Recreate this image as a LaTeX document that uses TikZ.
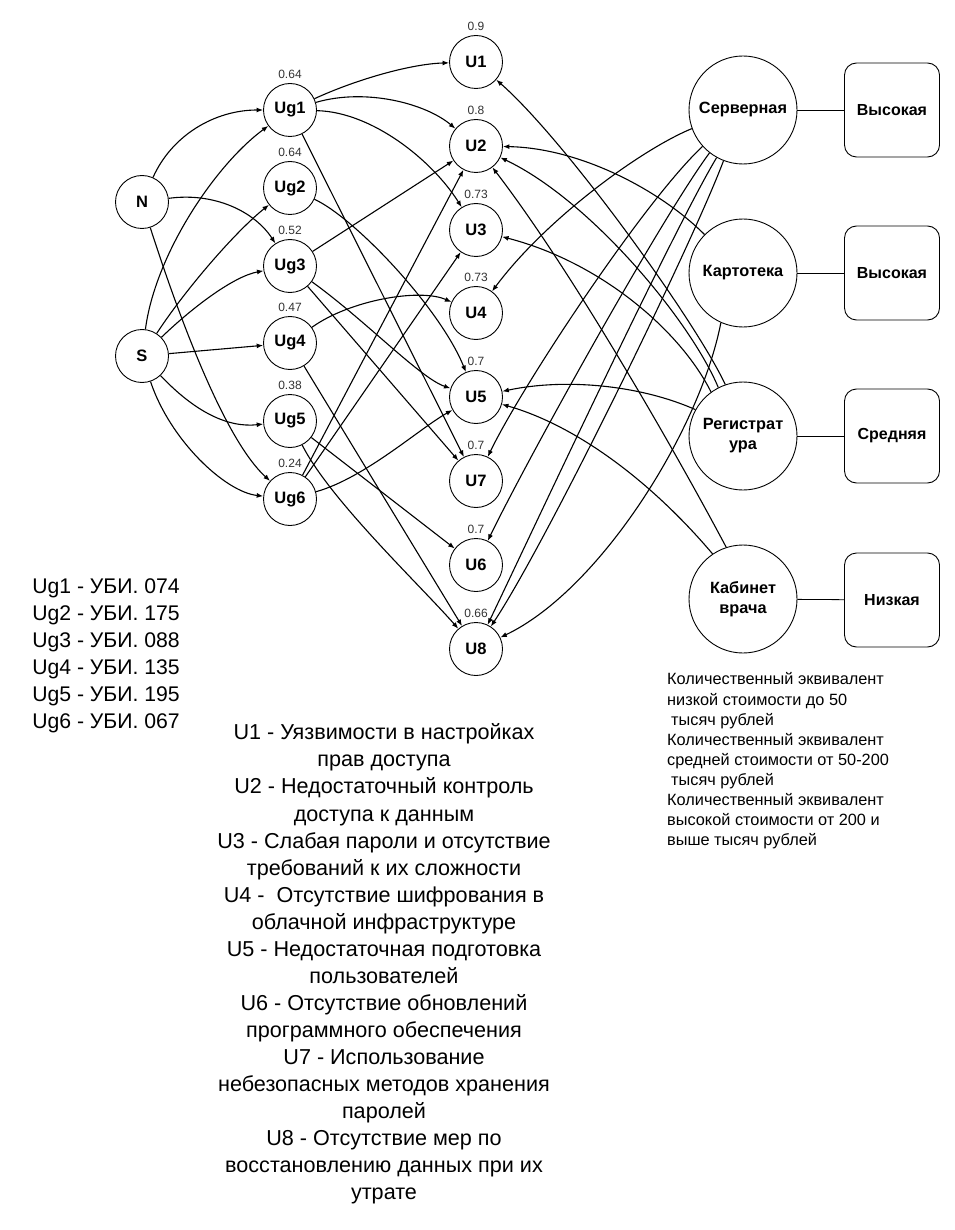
\documentclass[tikz,border=0pt]{standalone}
\usepackage{fontspec}
\setmainfont{Liberation Sans}
\usetikzlibrary{arrows.meta}
\begin{document}
\begin{tikzpicture}[x=1pt,y=-1pt,
  sm/.style={circle,draw,line width=0.9pt,minimum size=53pt,inner sep=0pt,fill=white,
    font=\bfseries\fontsize{16.5}{19}\selectfont},
  big/.style={circle,draw,line width=0.9pt,minimum size=108pt,inner sep=0pt,fill=white,align=center,
    font=\bfseries\fontsize{16.3}{20}\selectfont},
  box/.style={draw,rounded corners=12pt,minimum width=95pt,minimum height=94pt,line width=0.9pt,
    font=\bfseries\fontsize{16}{19}\selectfont},
  val/.style={font=\fontsize{12}{14}\selectfont,text=black!80,inner sep=1pt},
  vl/.style={label={[val,label distance=3.5pt]above:#1}},
  edge/.style={line width=1.1pt,-{Latex[length=6.5pt,width=5pt]}},
  conn/.style={line width=0.8pt}]
\fill[white] (0,0) rectangle (954,1230);
\useasboundingbox (0,0) rectangle (954,1230);
% sources
\node[sm] (N) at (142,202) {N};
\node[sm] (S) at (142,356) {S};
% threats
\node[sm,vl=0.64] (Ug1) at (290,110) {Ug1};
\node[sm,vl=0.64] (Ug2) at (290,188) {Ug2};
\node[sm,vl=0.52] (Ug3) at (290,266) {Ug3};
\node[sm,vl=0.47] (Ug4) at (290,343) {Ug4};
\node[sm,vl=0.38] (Ug5) at (290,421) {Ug5};
\node[sm,vl=0.24] (Ug6) at (290,499) {Ug6};
% vulnerabilities
\node[sm,vl=0.9]  (U1) at (476,62) {U1};
\node[sm,vl=0.8]  (U2) at (476,146) {U2};
\node[sm,vl=0.73] (U3) at (476,230) {U3};
\node[sm,vl=0.73] (U4) at (476,313) {U4};
\node[sm,vl=0.7]  (U5) at (476,397) {U5};
\node[sm,vl=0.7]  (U7) at (476,481) {U7};
\node[sm,vl=0.7]  (U6) at (476,565) {U6};
\node[sm,vl=0.66] (U8) at (476,649) {U8};
% assets
\node[big] (Serv) at (743,110) {Серверная};
\node[big] (Kart) at (743,273) {Картотека};
\node[big] (Reg)  at (743,436) {Регистрат\\ура};
\node[big] (Kab)  at (743,599) {Кабинет\\врача};
\node[box] (B1) at (892,110) {Высокая};
\node[box] (B2) at (892,273) {Высокая};
\node[box] (B3) at (892,436) {Средняя};
\node[box] (B4) at (892,600) {Низкая};
\draw[conn] (Serv) -- (B1);
\draw[conn] (Kart) -- (B2);
\draw[conn] (Reg) -- (B3);
\draw[conn] (Kab) -- (B4);
% N, S -> Ug
\draw[edge] (N) .. controls (172,135) and (215,110) .. (Ug1);
\draw[edge] (N) .. controls (215,192) and (255,212) .. (Ug3);
\draw[edge] (N) .. controls (180,320) and (225,440) .. (Ug6);
\draw[edge] (S) .. controls (155,255) and (215,165) .. (Ug1);
\draw[edge] (S) .. controls (185,290) and (235,232) .. (Ug2);
\draw[edge] (S) .. controls (195,305) and (235,276) .. (Ug3);
\draw[edge] (S) -- (Ug4);
\draw[edge] (S) .. controls (195,412) and (228,428) .. (Ug5);
\draw[edge] (S) .. controls (170,440) and (225,492) .. (Ug6);
% Ug -> U
\draw[edge] (Ug1) .. controls (355,80) and (410,64) .. (U1);
\draw[edge] (Ug1) .. controls (365,88) and (425,103) .. (U2);
\draw[edge] (Ug1) .. controls (372,112) and (432,160) .. (U3);
\draw[edge] (Ug1) -- (U7);
\draw[edge] (Ug2) .. controls (355,218) and (440,308) .. (U5);
\draw[edge] (Ug3) -- (U2);
\draw[edge] (Ug3) .. controls (365,320) and (420,378) .. (U5);
\draw[edge] (Ug3) -- (U7);
\draw[edge] (Ug4) .. controls (350,300) and (420,288) .. (U4);
\draw[edge] (Ug4) -- (U8);
\draw[edge] (Ug5) -- (U6);
\draw[edge] (Ug5) .. controls (330,500) and (420,585) .. (U8);
\draw[edge] (Ug6) -- (U2);
\draw[edge] (Ug6) -- (U3);
\draw[edge] (Ug6) .. controls (365,478) and (420,428) .. (U5);
% assets -> U
\draw[edge] (Serv.200) .. controls (640,150) and (545,220) .. (U4);
\draw[edge] (Serv.222) .. controls (645,200) and (523,384) .. (U7);
\draw[edge] (Serv.232) .. controls (660,220) and (527,460) .. (U6);
\draw[edge] (Serv.241) .. controls (672,232) and (532,532) .. (U8);
\draw[edge] (Serv.249) .. controls (693,242) and (548,540) .. (U8);
\draw[edge] (Kart.135) .. controls (660,190) and (580,148) .. (U2);
\draw[edge] (Kart.246) .. controls (700,430) and (600,590) .. (U8);
\draw[edge] (Reg.151) .. controls (640,385) and (565,378) .. (U5);
\draw[edge] (Reg.126) .. controls (680,330) and (600,262) .. (U3);
\draw[edge] (Reg.117) .. controls (690,320) and (590,200) .. (U2);
\draw[edge] (Reg.109) .. controls (695,320) and (565,140) .. (U1);
\draw[edge] (Kab.124) .. controls (650,480) and (575,425) .. (U5);
\draw[edge] (Kab.108) .. controls (680,460) and (575,275) .. (U2);
% texts
\node[align=center,inner sep=0pt,font=\fontsize{21.2}{27}\selectfont] (legUg) at (106,656)
  {Ug1 - УБИ. 074\\Ug2 - УБИ. 175\\Ug3 - УБИ. 088\\Ug4 - УБИ. 135\\Ug5 - УБИ. 195\\Ug6 - УБИ. 067};
\node[align=center,inner sep=0pt,font=\fontsize{21.6}{27.05}\selectfont] (legU) at (384,964)
  {U1 - Уязвимости в настройках\\прав доступа\\U2 - Недостаточный контроль\\доступа к данным\\
   U3 - Слабая пароли и отсутствие\\требований к их сложности\\U4 - \ Отсутствие шифрования в\\
   облачной инфраструктуре\\U5 - Недостаточная подготовка\\пользователей\\U6 - Отсутствие обновлений\\
   программного обеспечения\\U7 - Использование\\небезопасных методов хранения\\паролей\\
   U8 - Отсутствие мер по\\восстановлению данных при их\\утрате};
\node[align=left,anchor=west,inner sep=0pt,font=\fontsize{16.3}{20.1}\selectfont] (legC) at (667,761)
  {Количественный эквивалент\\низкой стоимости до 50\\\hspace*{4pt}тысяч рублей\\
   Количественный эквивалент\\средней стоимости от 50-200\\\hspace*{4pt}тысяч рублей\\
   Количественный эквивалент\\высокой стоимости от 200 и\\выше тысяч рублей};
\end{tikzpicture}
\end{document}
